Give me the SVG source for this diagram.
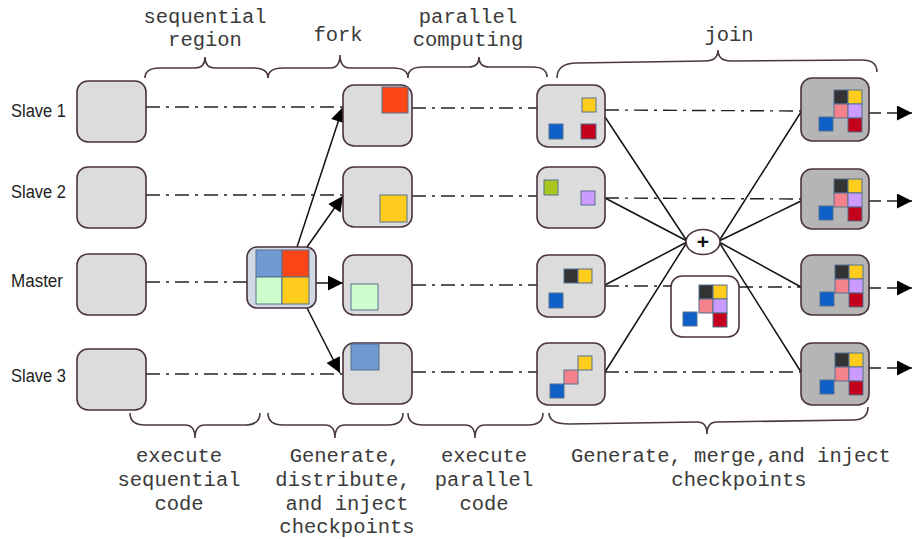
<svg xmlns="http://www.w3.org/2000/svg" width="913" height="539" viewBox="0 0 913 539">
  <style>
    .mono { font-family: "Liberation Mono", "Courier New", monospace; font-size: 20.5px; fill: #3a3a3a; text-anchor: middle; }
    .lab { font-family: "Liberation Sans", Arial, sans-serif; font-size: 18px; fill: #222; }
    .brace { fill: none; stroke: #4a3844; stroke-width: 1.6; }
    .node { fill: #dcdcdc; stroke: #4a3340; stroke-width: 1.6; }
    .node-dark { fill: #b5b5b5; stroke: #4a3340; stroke-width: 1.6; }
    .node-src { fill: #d3d9e3; stroke: #4a3340; stroke-width: 1.6; }
    .dash { fill: none; stroke: #222; stroke-width: 1.4; stroke-dasharray: 14 6 3 6; }
    .dash-out { fill: none; stroke: #222; stroke-width: 1.6; stroke-dasharray: 12 6; }
    .line { fill: none; stroke: #111; stroke-width: 1.5; }
    .sq { stroke: #55708f; stroke-width: 1; }
    .red { fill: #fa4616; }
    .yel { fill: #fdcc1d; }
    .blu { fill: #0f5fc8; }
    .lblu { fill: #6f9ad2; }
    .lgrn { fill: #cdfdcd; }
    .dred { fill: #c2001b; }
    .lime { fill: #a9c71e; }
    .pur { fill: #cc9bff; }
    .blk { fill: #333333; }
    .pnk { fill: #f4828a; }
  </style>
  <defs>
    <marker id="arrow" viewBox="0 0 10 10" refX="10" refY="5" markerWidth="20" markerHeight="15" markerUnits="userSpaceOnUse" orient="auto">
      <path d="M0,0 L10,5 L0,10 z" fill="#000"/>
    </marker>
    <marker id="arrow-out" viewBox="0 0 10 10" refX="10" refY="5" markerWidth="17" markerHeight="15" markerUnits="userSpaceOnUse" orient="auto">
      <path d="M0,0 L10,5 L0,10 z" fill="#000"/>
    </marker>
  </defs>

  <rect width="913" height="539" fill="#fff"/>

  <!-- phase labels -->
  <g id="labels-top">
    <text class="mono" x="205" y="23">sequential</text>
    <text class="mono" x="205" y="46">region</text>
    <text class="mono" x="338" y="41">fork</text>
    <text class="mono" x="468" y="23">parallel</text>
    <text class="mono" x="468" y="46">computing</text>
    <text class="mono" x="729" y="41">join</text>
  </g>
  <g id="braces-top">
    <path class="brace" d="M145,78 Q145,68 160,68 L195,68 Q205,68 205,57 Q205,68 215,68 L253,68 Q268,68 268,78"/>
    <path class="brace" d="M268,78 Q268,68 283,68 L330,68 Q340,68 340,55 Q340,68 350,68 L393,68 Q408,68 408,78"/>
    <path class="brace" d="M408,77 Q408,67 423,67 L469,67 Q479,67 479,57 Q479,67 489,67 L532,67 Q547,67 547,77"/>
    <path class="brace" d="M557,78 Q557,63 577,63 L705,61 Q718,61 718,50 Q718,61 731,61 L862,60 Q877,60 877,72"/>
  </g>

  <g id="labels-bottom">
    <text class="mono" x="179" y="462">execute</text>
    <text class="mono" x="179" y="486">sequential</text>
    <text class="mono" x="179" y="510">code</text>
    <text class="mono" x="345" y="462">Generate,</text>
    <text class="mono" x="343" y="486">distribute,</text>
    <text class="mono" x="347" y="510">and inject</text>
    <text class="mono" x="347" y="533">checkpoints</text>
    <text class="mono" x="484" y="462">execute</text>
    <text class="mono" x="484" y="486">parallel</text>
    <text class="mono" x="484" y="510">code</text>
    <text class="mono" x="731" y="462">Generate, merge,and inject</text>
    <text class="mono" x="739" y="486">checkpoints</text>
  </g>
  <g id="braces-bottom">
    <path class="brace" d="M130,413 Q130,425 145,425 L185,425 Q195,425 195,438 Q195,425 205,425 L245,425 Q260,425 260,413"/>
    <path class="brace" d="M268,413 Q268,425 283,425 L325,425 Q335,425 335,438 Q335,425 345,425 L388,425 Q403,425 403,413"/>
    <path class="brace" d="M408,413 Q408,425 423,425 L465,425 Q475,425 475,438 Q475,425 485,425 L528,425 Q543,425 543,413"/>
    <path class="brace" d="M549,413 Q549,424 569,424 L697,422 Q707,422 707,434 Q707,422 717,422 L853,420 Q868,420 868,407"/>
  </g>

  <!-- row labels -->
  <g id="row-labels">
    <text class="lab" x="11" y="117" textLength="55" lengthAdjust="spacingAndGlyphs">Slave 1</text>
    <text class="lab" x="11" y="198" textLength="55" lengthAdjust="spacingAndGlyphs">Slave 2</text>
    <text class="lab" x="11" y="287" textLength="52" lengthAdjust="spacingAndGlyphs">Master</text>
    <text class="lab" x="11" y="382" textLength="55" lengthAdjust="spacingAndGlyphs">Slave 3</text>
  </g>

  <!-- connectors -->
  <g id="connectors">
    <!-- timelines -->
    <path class="dash" d="M146,107 L343,107"/>
    <path class="dash" d="M412,108 L537,108"/>
    <path class="dash" d="M605,110 L801,111"/>
    <path class="dash" d="M146,195 L343,195"/>
    <path class="dash" d="M412,196 L537,196"/>
    <path class="dash" d="M605,198 L801,199"/>
    <path class="dash" d="M146,282 L247,282"/>
    <path class="dash" d="M412,285 L537,285"/>
    <path class="dash" d="M605,286 L671,286"/>
    <path class="dash" d="M739,287 L801,287"/>
    <path class="dash" d="M146,374 L343,374"/>
    <path class="dash" d="M412,372 L537,372"/>
    <path class="dash" d="M605,372 L801,372"/>
    <!-- outputs -->
    <path class="dash-out" d="M869,113 L912,113" marker-end="url(#arrow-out)"/>
    <path class="dash-out" d="M869,201 L912,201" marker-end="url(#arrow-out)"/>
    <path class="dash-out" d="M869,288 L912,288" marker-end="url(#arrow-out)"/>
    <path class="dash-out" d="M869,368 L912,368" marker-end="url(#arrow-out)"/>
    <!-- fork -->
    <path class="line" d="M297,247 L343,107" marker-end="url(#arrow)"/>
    <path class="line" d="M307,247 L343,196" marker-end="url(#arrow)"/>
    <path class="line" d="M316,283 L343,283" marker-end="url(#arrow)"/>
    <path class="line" d="M307,308 L340,373" marker-end="url(#arrow)"/>
    <!-- join -->
    <path class="line" d="M605,117 L687,241"/>
    <path class="line" d="M605,198 L687,241"/>
    <path class="line" d="M605,285 L687,242"/>
    <path class="line" d="M605,372 L687,242"/>
    <path class="line" d="M719,241 L801,112"/>
    <path class="line" d="M719,241 L801,201"/>
    <path class="line" d="M719,242 L801,287"/>
    <path class="line" d="M719,242 L801,372"/>
  </g>

  <!-- sequential nodes -->
  <g id="seq-slave1"><rect class="node" x="77" y="81" width="69" height="61" rx="11"/></g>
  <g id="seq-slave2"><rect class="node" x="77" y="167" width="69" height="61" rx="11"/></g>
  <g id="seq-master"><rect class="node" x="77" y="254" width="69" height="61" rx="11"/></g>
  <g id="seq-slave3"><rect class="node" x="77" y="349" width="69" height="61" rx="11"/></g>

  <!-- fork source -->
  <g id="fork-master">
    <rect class="node-src" x="247" y="247" width="69" height="61" rx="10"/>
    <rect class="sq lblu" x="256" y="250" width="26" height="27"/>
    <rect class="sq red" x="282" y="250" width="27" height="27"/>
    <rect class="sq lgrn" x="256" y="277" width="26" height="27"/>
    <rect class="sq yel" x="282" y="277" width="27" height="27"/>
  </g>

  <!-- distributed checkpoints -->
  <g id="fork-slave1">
    <rect class="node" x="343" y="85" width="69" height="61" rx="11"/>
    <rect class="sq red" x="382" y="87" width="26" height="26"/>
  </g>
  <g id="fork-slave2">
    <rect class="node" x="343" y="167" width="69" height="60" rx="11"/>
    <rect class="sq yel" x="380" y="195" width="27" height="27"/>
  </g>
  <g id="fork-master-copy">
    <rect class="node" x="343" y="255" width="69" height="60" rx="11"/>
    <rect class="sq lgrn" x="351" y="284" width="27" height="26"/>
  </g>
  <g id="fork-slave3">
    <rect class="node" x="343" y="343" width="69" height="61" rx="11"/>
    <rect class="sq lblu" x="351" y="344" width="28" height="26"/>
  </g>

  <!-- parallel computing -->
  <g id="par-slave1">
    <rect class="node" x="537" y="85" width="68" height="62" rx="11"/>
    <rect class="sq yel" x="582" y="98" width="14" height="14"/>
    <rect class="sq blu" x="549" y="124" width="14" height="15"/>
    <rect class="sq dred" x="581" y="124" width="15" height="15"/>
  </g>
  <g id="par-slave2">
    <rect class="node" x="537" y="167" width="68" height="61" rx="11"/>
    <rect class="sq lime" x="544" y="180" width="14" height="15"/>
    <rect class="sq pur" x="581" y="191" width="14" height="14"/>
  </g>
  <g id="par-master">
    <rect class="node" x="537" y="255" width="68" height="62" rx="11"/>
    <rect class="sq blk" x="564" y="269" width="14" height="14"/>
    <rect class="sq yel" x="578" y="269" width="14" height="14"/>
    <rect class="sq blu" x="549" y="293" width="14" height="15"/>
  </g>
  <g id="par-slave3">
    <rect class="node" x="537" y="343" width="68" height="62" rx="11"/>
    <rect class="sq yel" x="578" y="356" width="14" height="14"/>
    <rect class="sq pnk" x="564" y="370" width="14" height="14"/>
    <rect class="sq blu" x="550" y="384" width="14" height="14"/>
  </g>

  <!-- merge -->
  <g id="merge-op">
    <ellipse cx="703" cy="242" rx="17" ry="12.5" fill="#fff" stroke="#4a3340" stroke-width="1.6"/>
    <text x="703" y="249" font-family="Liberation Sans, Arial, sans-serif" font-size="21" font-weight="bold" text-anchor="middle" fill="#111">+</text>
  </g>
  <g id="merged-checkpoint">
    <rect x="671" y="276" width="68" height="61" rx="11" fill="#fff" stroke="#4a3340" stroke-width="1.6"/>
    <rect class="sq blk" x="699" y="285" width="14" height="14"/>
    <rect class="sq yel" x="713" y="285" width="14" height="14"/>
    <rect class="sq pnk" x="699" y="299" width="14" height="14"/>
    <rect class="sq pur" x="713" y="299" width="14" height="14"/>
    <rect class="sq dred" x="713" y="313" width="14" height="14"/>
    <rect class="sq blu" x="683" y="312" width="14" height="14"/>
  </g>

  <!-- joined nodes -->
  <g id="join-slave1">
    <rect class="node-dark" x="801" y="78" width="68" height="63" rx="11"/>
    <rect class="sq blk" x="834" y="90" width="14" height="14"/>
    <rect class="sq yel" x="848" y="90" width="14" height="14"/>
    <rect class="sq pnk" x="834" y="104" width="14" height="14"/>
    <rect class="sq pur" x="848" y="104" width="14" height="14"/>
    <rect class="sq dred" x="848" y="118" width="14" height="14"/>
    <rect class="sq blu" x="819" y="117" width="14" height="14"/>
  </g>
  <g id="join-slave2">
    <rect class="node-dark" x="801" y="169" width="68" height="60" rx="11"/>
    <rect class="sq blk" x="834" y="179" width="14" height="14"/>
    <rect class="sq yel" x="848" y="179" width="14" height="14"/>
    <rect class="sq pnk" x="834" y="193" width="14" height="14"/>
    <rect class="sq pur" x="848" y="193" width="14" height="14"/>
    <rect class="sq dred" x="848" y="207" width="14" height="14"/>
    <rect class="sq blu" x="819" y="206" width="14" height="14"/>
  </g>
  <g id="join-master">
    <rect class="node-dark" x="801" y="255" width="68" height="60" rx="11"/>
    <rect class="sq blk" x="835" y="265" width="14" height="14"/>
    <rect class="sq yel" x="849" y="265" width="14" height="14"/>
    <rect class="sq pnk" x="835" y="279" width="14" height="14"/>
    <rect class="sq pur" x="849" y="279" width="14" height="14"/>
    <rect class="sq dred" x="849" y="293" width="14" height="14"/>
    <rect class="sq blu" x="820" y="292" width="14" height="14"/>
  </g>
  <g id="join-slave3">
    <rect class="node-dark" x="801" y="343" width="68" height="62" rx="11"/>
    <rect class="sq blk" x="835" y="353" width="14" height="14"/>
    <rect class="sq yel" x="849" y="353" width="14" height="14"/>
    <rect class="sq pnk" x="835" y="367" width="14" height="14"/>
    <rect class="sq pur" x="849" y="367" width="14" height="14"/>
    <rect class="sq dred" x="849" y="381" width="14" height="14"/>
    <rect class="sq blu" x="820" y="380" width="14" height="14"/>
  </g>
</svg>
